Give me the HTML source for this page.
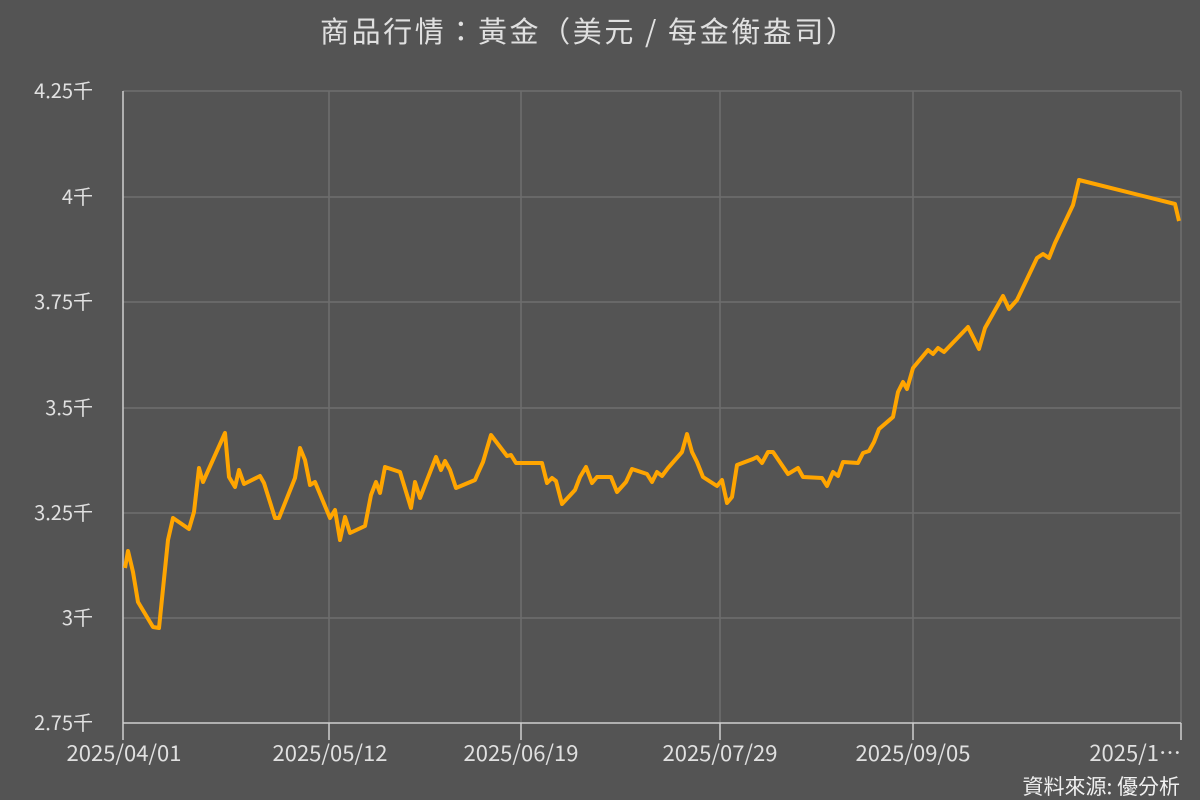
<!DOCTYPE html>
<html><head><meta charset="utf-8"><style>
html,body{margin:0;padding:0;background:#545454;}
</style></head><body>
<svg width="1200" height="800" xmlns="http://www.w3.org/2000/svg" style="display:block;font-family:'Noto Sans CJK TC','Liberation Sans',sans-serif">
<rect width="1200" height="800" fill="#545454"/>
<text x="320" y="42" font-size="29" fill="#e0e0e0" textLength="535" lengthAdjust="spacing">商品行情：黃金（美元 / 每金衡盎司）</text>
<g stroke="#6e6e6e" stroke-width="1.5">
<line x1="123" y1="91" x2="1181" y2="91"/>
<line x1="123" y1="197" x2="1181" y2="197"/>
<line x1="123" y1="302" x2="1181" y2="302"/>
<line x1="123" y1="408" x2="1181" y2="408"/>
<line x1="123" y1="513" x2="1181" y2="513"/>
<line x1="123" y1="618" x2="1181" y2="618"/>
<line x1="329" y1="91" x2="329" y2="723"/>
<line x1="521" y1="91" x2="521" y2="723"/>
<line x1="720" y1="91" x2="720" y2="723"/>
<line x1="913" y1="91" x2="913" y2="723"/>
<line x1="1181" y1="91" x2="1181" y2="723"/>
</g>
<line x1="123" y1="91" x2="123" y2="740" stroke="#cfcfcf" stroke-width="1.5"/>
<line x1="123" y1="723" x2="1181" y2="723" stroke="#cfcfcf" stroke-width="1.5"/>
<g stroke="#cfcfcf" stroke-width="1.5">
<line x1="329" y1="723" x2="329" y2="740"/><line x1="521" y1="723" x2="521" y2="740"/>
<line x1="720" y1="723" x2="720" y2="740"/><line x1="913" y1="723" x2="913" y2="740"/>
<line x1="1181" y1="723" x2="1181" y2="740"/>
</g>
<g font-size="20" fill="#e0e0e0" text-anchor="end">
<text x="93" y="98">4.25千</text>
<text x="93" y="204">4千</text>
<text x="93" y="309">3.75千</text>
<text x="93" y="415">3.5千</text>
<text x="93" y="520">3.25千</text>
<text x="93" y="625">3千</text>
<text x="93" y="730">2.75千</text>
</g>
<g font-size="22" fill="#e0e0e0" text-anchor="middle">
<text x="124" y="761">2025/04/01</text>
<text x="330" y="761">2025/05/12</text>
<text x="521" y="761">2025/06/19</text>
<text x="720" y="761">2025/07/29</text>
<text x="913" y="761">2025/09/05</text>
<text x="1181" y="761" text-anchor="end">2025/1…</text>
</g>
<text x="1180" y="794" text-anchor="end" font-size="21" fill="#f0f0f0">資料來源: 優分析</text>
<polyline fill="none" stroke="#ffa500" stroke-width="4" stroke-linejoin="round" points="125,568 128,551 133,572 138,602 153,627 159,628 168,540 173,518 189,529 194,512 199,468 203,482 225,433 229,477 235,487 239,470 244,484 260,476 264,483 275,518 279,518 295,478 300,448 305,460 310,485 315,482 330,518 335,510 340,540 345,517 350,533 365,526 371,495 376,482 380,493 385,467 400,472 411,508 415,482 420,498 436,457 441,470 445,461 450,470 456,488 475,480 478,473 483,462 491,435 507,456 511,455 516,463 540,463 542,463 547,483 552,478 556,481 562,504 575,490 580,477 586,467 592,483 597,477 611,477 617,492 626,482 632,469 647,474 652,482 657,472 662,476 668,468 682,452 687,434 692,452 697,462 703,477 717,486 722,480 727,503 732,497 737,465 753,459 757,457 762,463 768,452 773,452 788,474 798,468 803,477 822,478 827,486 833,472 838,476 843,462 858,463 863,453 869,451 874,442 879,429 893,417 898,392 903,382 907,389 913,368 928,350 933,354 938,348 944,352 968,327 979,349 985,328 1003,296 1009,309 1017,300 1037,258 1043,254 1049,258 1055,243 1073,205 1079,180 1175,204 1179,221"/>
</svg>
</body></html>
